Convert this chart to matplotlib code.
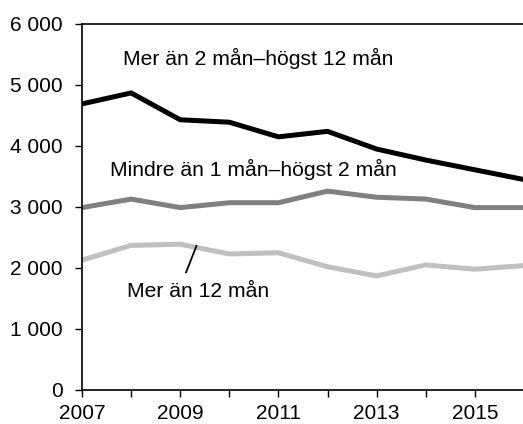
import matplotlib
matplotlib.use("Agg")
import matplotlib.pyplot as plt
from matplotlib.ticker import FuncFormatter

plt.rcParams['font.family'] = ['Liberation Sans', 'DejaVu Sans']

years = [2007, 2008, 2009, 2010, 2011, 2012, 2013, 2014, 2015, 2016]
mer2_12 = [4690, 4870, 4430, 4390, 4150, 4240, 3950, 3770, 3610, 3450]
mindre1_2 = [2990, 3130, 2990, 3070, 3070, 3260, 3160, 3130, 2990, 2990]
mer12 = [2130, 2370, 2390, 2230, 2250, 2020, 1870, 2050, 1980, 2040]

fig = plt.figure(figsize=(5.23, 4.24), dpi=100)
ax = fig.add_axes([0.1568, 0.0802, 0.845, 0.8632])

ax.plot(years, mer2_12, color='black', lw=3.6)
ax.plot(years, mindre1_2, color='#808080', lw=3.6)
ax.plot(years, mer12, color='#c0c0c0', lw=3.6)

ax.set_xlim(2007, 2016)
ax.set_ylim(0, 6000)
ax.set_yticks(range(0, 6001, 1000))
ax.yaxis.set_major_formatter(FuncFormatter(lambda v, p: f"{int(v):,}".replace(",", " ")))
ax.set_xticks(years)
ax.set_xticklabels([str(y) if (y - 2007) % 2 == 0 else "" for y in years])
ax.tick_params(direction='out', length=5, width=1, labelsize=15, colors='black')
ax.tick_params(axis='y', pad=9)
ax.tick_params(axis='x', pad=5)
for s in ['left', 'bottom', 'top']:
    ax.spines[s].set_linewidth(1.2)
ax.spines['right'].set_visible(False)

ax.text(2007.84, 5430, "Mer än 2 mån–högst 12 mån", fontsize=15.2, va='center', ha='left')
ax.text(2007.57, 3610, "Mindre än 1 mån–högst 2 mån", fontsize=15.2, va='center', ha='left')
ax.text(2007.92, 1610, "Mer än 12 mån", fontsize=15.2, va='center', ha='left')
ax.plot([2009.12, 2009.33], [1930, 2360], color='black', lw=1.3)

fig.savefig("out.png", dpi=100)
